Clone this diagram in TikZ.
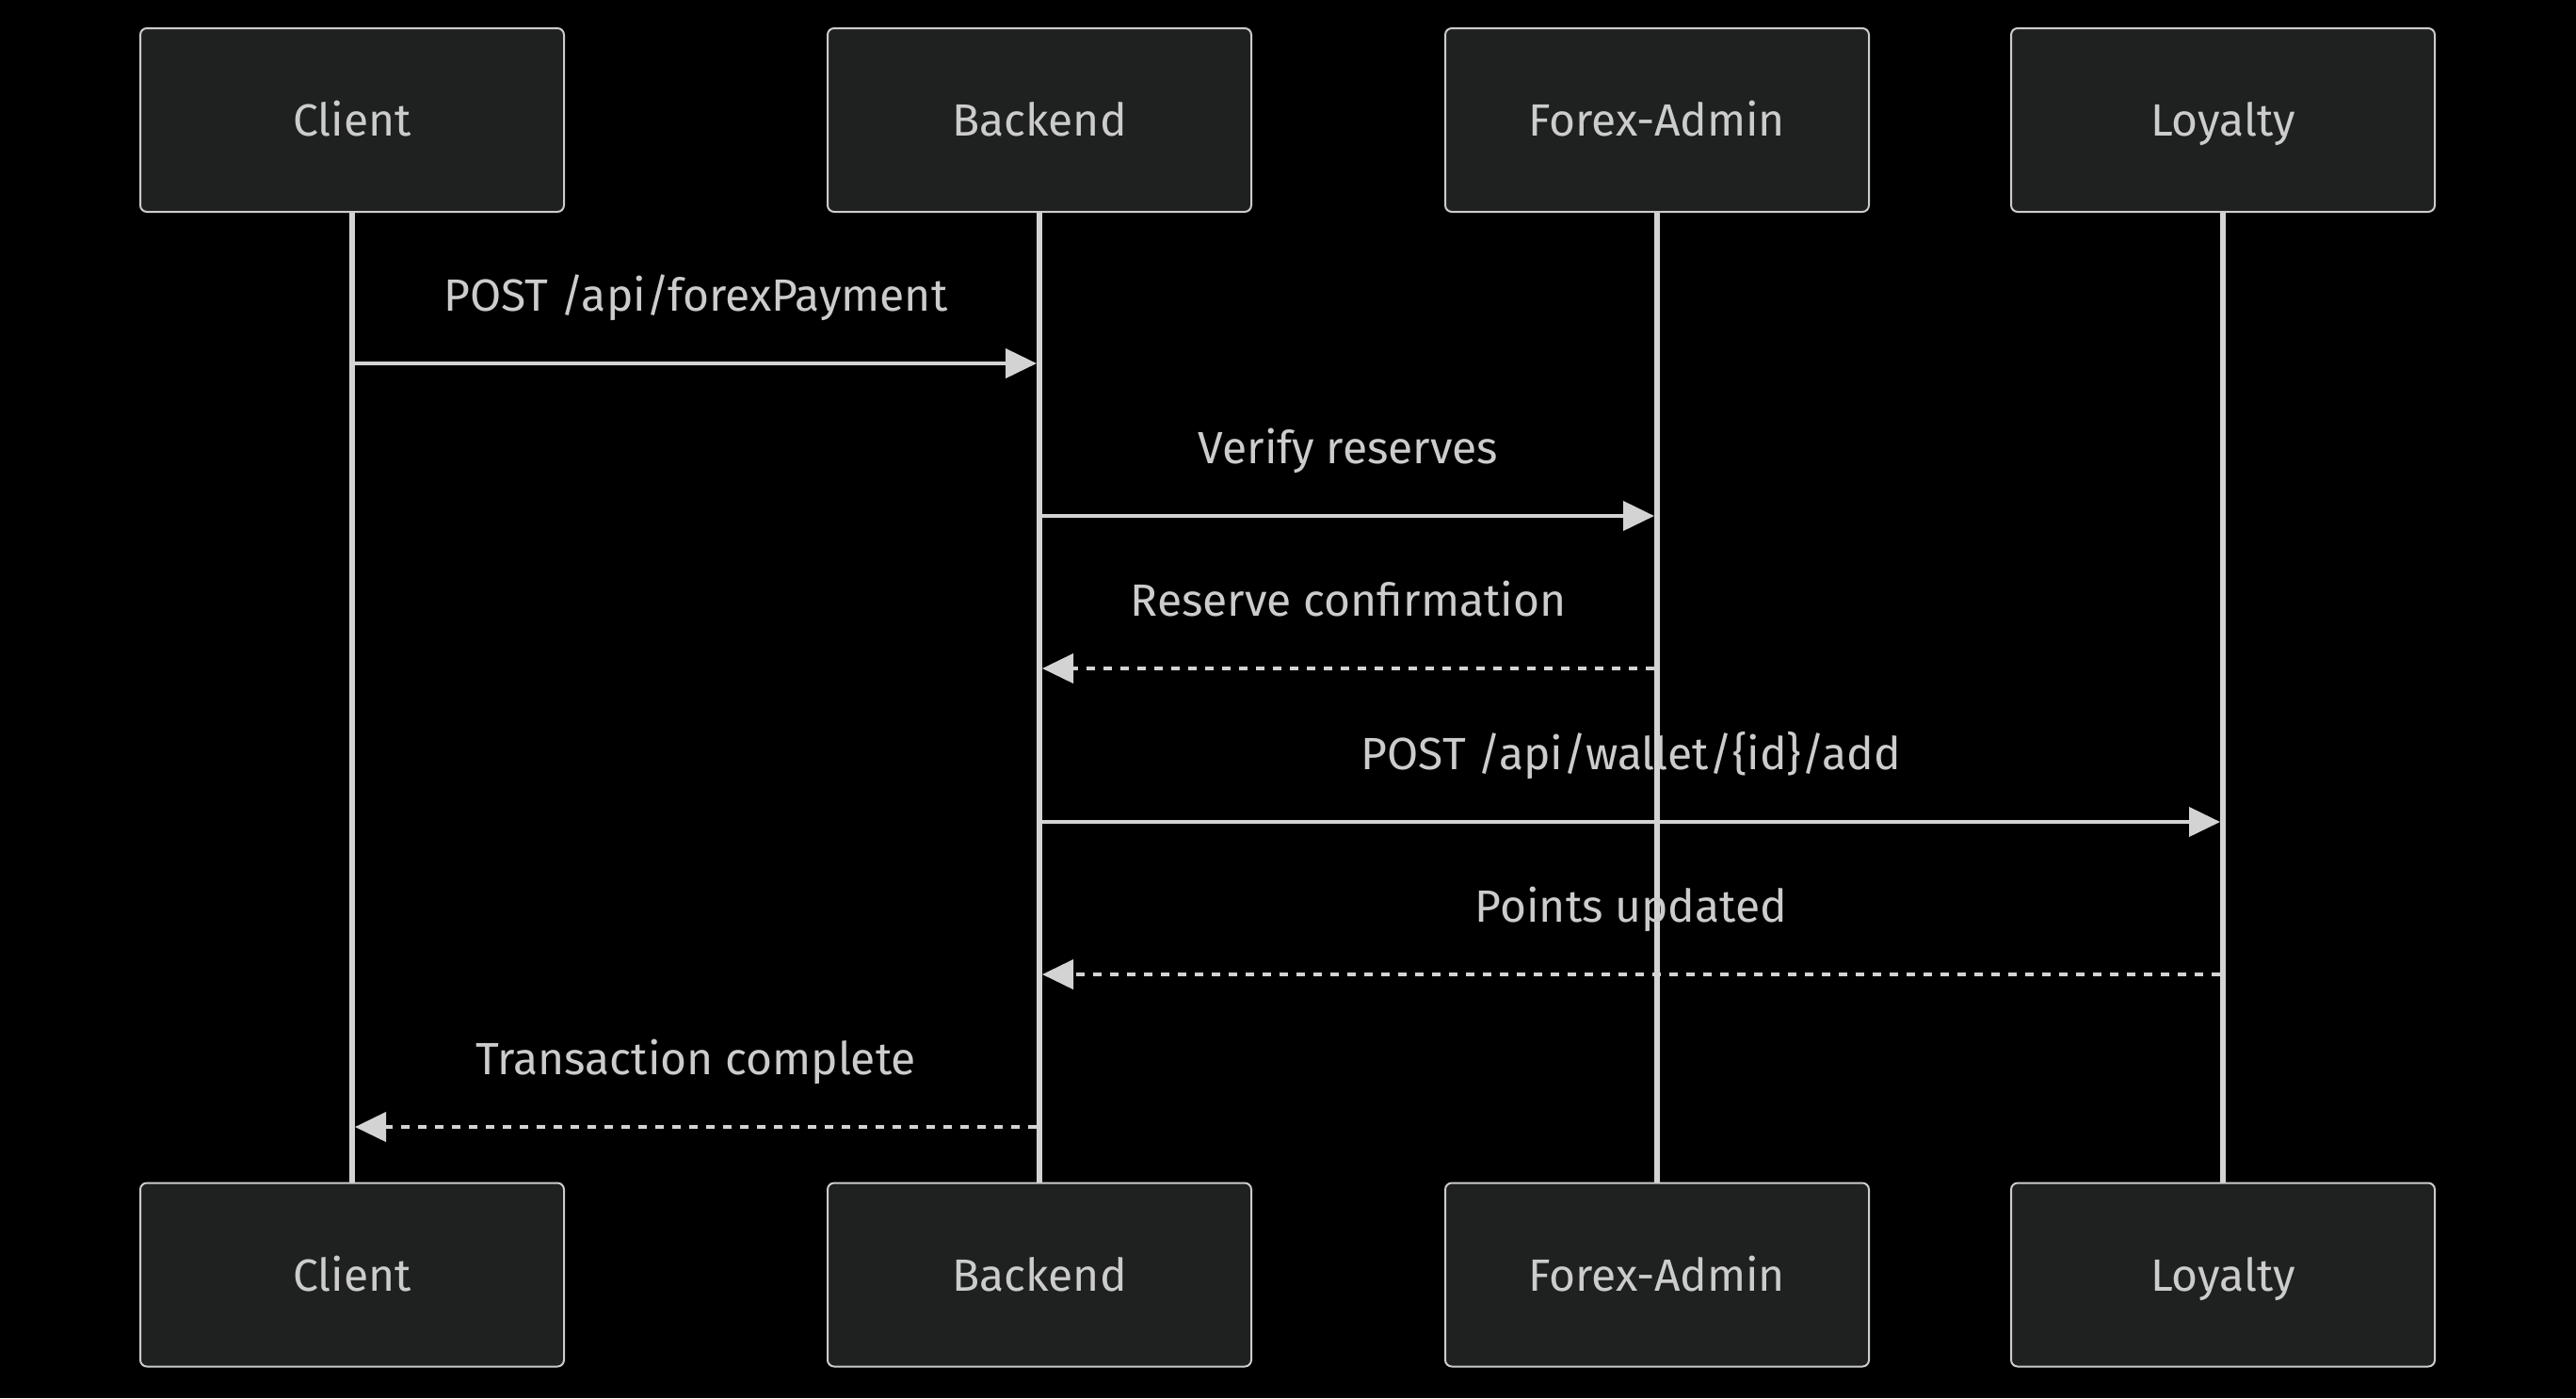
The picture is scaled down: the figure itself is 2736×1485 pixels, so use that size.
\documentclass[tikz,border=0pt]{standalone}
\usepackage{fontspec}
\setmainfont{Fira Sans}
\usetikzlibrary{arrows.meta}
\definecolor{actorfill}{HTML}{1F2020}
\definecolor{ink}{HTML}{CCCCCC}
\definecolor{wire}{HTML}{D3D3D3}
\tikzset{
  actor/.style={draw=ink, line width=1pt, fill=actorfill, rounded corners=3.5pt,
    minimum width=225pt, minimum height=97.5pt, text=ink, text height=20pt, text depth=3pt,
    font=\fontsize{24}{28}\selectfont},
  lifeline/.style={wire, line width=3pt},
  msg/.style={wire, line width=2pt, shorten >=1.5pt, shorten <=1.5pt, -{Triangle[length=16.5pt,width=15.5pt]}},
  reply/.style={msg, dash pattern=on 4.5pt off 4.5pt},
  msglabel/.style={text=ink, font=\fontsize{24}{28}\selectfont, anchor=base, yshift=28pt}
}
\begin{document}
\begin{tikzpicture}[x=0.5pt,y=-0.5pt]
        \fill[black] (0,0) rectangle (2736,1485);
        \useasboundingbox (0,0) rectangle (2736,1485);
        % lifelines first, boxes on top
        \foreach \who/\x/\txt in {client/374/Client, backend/1104/Backend, forex/1760/Forex-Admin, loyalty/2361/Loyalty}{
            \coordinate (\who) at (\x,127.5);
            \coordinate (\who B) at (\x,1354);
            \draw[lifeline] (\who) -- (\who B);
            \node[actor] (\who Top) at (\who) {\txt};
            \node[actor] (\who Bot) at (\who B) {\txt};
        }
        % messages
        \foreach \from/\to/\y/\kind/\txt in {
            client/backend/386/msg/{POST /api/forexPayment},
            backend/forex/548/msg/{Verify reserves},
            forex/backend/710/reply/{Reserve confirmation},
            backend/loyalty/873/msg/{POST /api/wallet/\{id\}/add},
            loyalty/backend/1035/reply/{Points updated},
            backend/client/1197/reply/{Transaction complete}}
            \draw[\kind] (\from |- 0,\y) -- (\to |- 0,\y) node[midway,msglabel]{\txt};
\end{tikzpicture}
\end{document}
